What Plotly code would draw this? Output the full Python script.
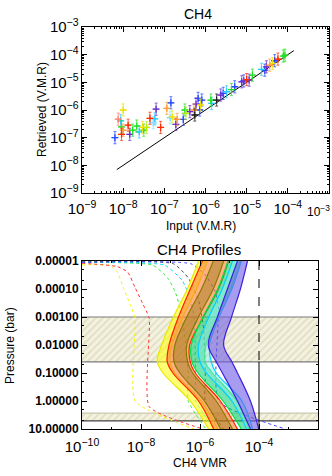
import numpy as np
import plotly.graph_objects as go

# ---------------- Top panel data (log10 values) ----------------
input_log = [-8.20, -8.12, -8.06, -8.04, -8.04, -8.00, -8.00, -7.88, -7.84, -7.77,
             -7.67, -7.61, -7.53, -7.50, -7.43, -7.35, -7.27, -7.23, -7.20, -7.09,
             -6.94, -6.84, -6.86, -6.81, -6.72, -6.69, -6.54, -6.50, -6.48, -6.38,
             -6.28, -6.26, -6.23, -6.18, -6.14, -6.09, -6.12, -5.87, -5.85, -5.73,
             -5.63, -5.57, -5.49, -5.37, -5.29, -5.12, -5.07, -5.00, -4.94, -4.86,
             -4.64, -4.56, -4.52, -4.44, -4.37, -4.32, -4.24, -4.11, -4.07]
retrieved_log = [-7.00, -6.33, -6.39, -6.61, -6.88, -6.00, -6.73, -6.55, -6.88, -6.73,
                 -6.58, -6.79, -6.63, -6.73, -6.63, -6.30, -6.46, -6.32, -5.97, -6.63,
                 -5.94, -5.74, -6.28, -6.25, -6.52, -6.34, -6.34, -6.00, -6.12, -6.06,
                 -6.00, -6.18, -5.79, -5.58, -6.00, -5.64, -5.82, -5.64, -5.76, -5.64,
                 -5.46, -5.40, -5.34, -5.26, -5.16, -4.98, -4.95, -4.90, -4.92, -4.74,
                 -4.53, -4.56, -4.44, -4.38, -4.32, -4.22, -4.16, -4.05, -4.02]
point_colors = ["B", "S", "C", "G", "R", "Y", "O", "R", "P", "G",
                "G", "C", "Y", "G", "YG", "R", "LC", "C", "P", "R",
                "O", "B", "LC", "Y", "P", "O", "B", "G", "YG", "P",
                "O", "K", "P", "B", "B", "B", "Y", "G", "C", "K",
                "P", "B", "C", "G", "B", "P", "B", "R", "P", "G",
                "C", "B", "P", "O", "Y", "B", "R", "G", "G"]
yerr_dex = 0.22
xerr_dex = 0.07
one_to_one = [7e-9, 1.4e-4]

# ---------------- Bottom panel data ----------------
levels_logp = [-5, -4, -3, -2, -1.4, -1, 0, 1]
bands = {
    "yellow": ([-6.05, -6.43, -6.90, -7.30, -7.45, -7.25, -6.33, -5.71],
               [-5.75, -6.12, -6.58, -6.95, -7.02, -6.85, -5.95, -5.40]),
    "orange": ([-5.92, -6.33, -6.73, -7.05, -7.11, -6.92, -6.05, -5.54],
               [-5.03, -5.37, -5.88, -6.35, -6.33, -6.16, -5.31, -4.73]),
    "olive":  ([-5.55, -5.95, -6.45, -6.85, -6.88, -6.68, -5.85, -5.30],
               [-5.20, -5.55, -6.05, -6.45, -6.42, -6.25, -5.45, -4.90]),
    "green":  ([-5.05, -5.40, -5.90, -6.30, -6.27, -6.07, -5.22, -4.60],
               [-4.63, -4.97, -5.41, -5.80, -5.82, -5.58, -4.75, -4.35]),
    "cyan":   ([-4.90, -5.25, -5.70, -6.05, -6.00, -5.78, -4.92, -4.42],
               [-4.60, -4.92, -5.35, -5.68, -5.62, -5.45, -4.58, -4.22]),
    "purple": ([-4.73, -5.07, -5.41, -5.72, -5.45, -5.24, -4.73, -4.29],
               [-4.39, -4.63, -4.93, -5.20, -4.92, -4.73, -4.29, -4.01]),
}
priors = {
    "yellow": ([-10, -9.05, -8.8, -8.6, -8.37, -8.2, -8.2, -6.2],
               [-4.86, -4.84, -4.6, -4.05, -3.45, -2.95, 0.0, 1.0]),
    "red":    ([-10, -8.8, -8.45, -8.2, -7.93, -7.72, -7.72, -5.9],
               [-4.92, -4.80, -4.6, -4.05, -3.45, -2.95, 0.2, 1.0]),
    "green":  ([-10, -7.6, -7.1, -6.84, -6.65, -6.5, -6.4, -6.4, -5.8],
               [-4.95, -4.85, -4.4, -3.9, -3.2, -2.2, -1.0, 0.0, 1.0]),
    "cyan":   ([-10, -7.2, -6.6, -6.35, -6.2, -6.15, -6.15, -5.5],
               [-4.96, -4.85, -4.3, -3.7, -3.0, -1.0, 0.0, 1.0]),
    "black":  ([-10, -6.9, -6.4, -6.05, -5.88, -5.82, -5.82, -5.2],
               [-4.97, -4.90, -4.4, -3.6, -2.6, -1.0, 0.0, 1.0]),
    "blue":   ([-10, -6.3, -5.82, -5.48, -5.37, -5.37, -3.1],
               [-4.95, -4.90, -4.5, -3.9, -3.3, 0.0, 1.0]),
}
true_vmr = 1e-4
hatch_bands = [(-3.0, -1.4), (0.43, 0.71)]
p_ticks = [1e-5, 1e-4, 1e-3, 1e-2, 1e-1, 1, 10]
p_ticktext = ["0.00001", "0.00010", "0.00100", "0.01000", "0.10000", "1.00000", "10.00000"]

# ---------------- Styles ----------------
pt_col = {"B": "#2448ff", "P": "#6a2ad0", "C": "#28c8ff", "LC": "#80e4ff", "G": "#20e020",
          "YG": "#b4f000", "Y": "#f0e000", "O": "#ff9a30", "R": "#ff2a00", "S": "#ff8070",
          "K": "#202020"}
band_style = {
    "yellow": ("#e8e800", "rgba(255,255,0,0.55)"),
    "orange": ("#ff2000", "rgba(255,125,50,0.6)"),
    "olive":  ("#8a7a00", "rgba(130,110,0,0.38)"),
    "green":  ("#00e040", "rgba(0,205,110,0.55)"),
    "cyan":   ("#00d0ff", "rgba(140,235,235,0.5)"),
    "purple": ("#4020e0", "rgba(110,90,230,0.6)"),
}
prior_col = {"yellow": "#f4f400", "red": "#ff3030", "green": "#30f030",
             "cyan": "#00d8ff", "black": "#404040", "blue": "#4040ff"}

FONT = "Liberation Sans, Arial, Helvetica, sans-serif"
fig = go.Figure()

# ---- top panel ----
fig.add_trace(go.Scatter(x=one_to_one, y=one_to_one, mode="lines",
                         line=dict(color="black", width=1), xaxis="x", yaxis="y",
                         showlegend=False, hoverinfo="skip"))
xin = np.array(input_log)
yret = np.array(retrieved_log)
cols = np.array(point_colors)
for key in pt_col:
    m = cols == key
    if not m.any():
        continue
    xv = 10 ** xin[m]
    yv = 10 ** yret[m]
    fig.add_trace(go.Scatter(
        x=xv, y=yv, mode="markers", xaxis="x", yaxis="y", showlegend=False,
        marker=dict(symbol="cross-thin", size=5, line=dict(width=1.3, color=pt_col[key]),
                    color=pt_col[key]),
        error_y=dict(type="data", symmetric=False, array=yv * (10 ** yerr_dex - 1),
                     arrayminus=yv * (1 - 10 ** -yerr_dex), color=pt_col[key],
                     thickness=0.7, width=1.5),
        error_x=dict(type="data", symmetric=False, array=xv * (10 ** xerr_dex - 1),
                     arrayminus=xv * (1 - 10 ** -xerr_dex), color=pt_col[key],
                     thickness=0.7, width=0),
    ))

# ---- bottom panel ----
for (a, b) in hatch_bands:
    fig.add_trace(go.Scatter(
        x=[1e-10, 1e-2, 1e-2, 1e-10, 1e-10], y=[10 ** a, 10 ** a, 10 ** b, 10 ** b, 10 ** a],
        mode="lines", fill="toself", line=dict(width=0), fillcolor="#f3f1df",
        fillpattern=dict(shape="/", bgcolor="#f3f1df", fgcolor="#cdc8a0", size=5, solidity=0.3),
        xaxis="x2", yaxis="y2", showlegend=False, hoverinfo="skip"))
for lp, c in [(-3.0, "#7a7a7a"), (-1.4, "#7a7a7a"), (0.43, "#c8c8b0"), (0.71, "#404040")]:
    fig.add_trace(go.Scatter(x=[1e-10, 1e-2], y=[10 ** lp, 10 ** lp], mode="lines",
                             line=dict(color=c, width=1.2), xaxis="x2", yaxis="y2",
                             showlegend=False, hoverinfo="skip"))

for name, (px_, pp_) in priors.items():
    fig.add_trace(go.Scatter(
        x=[10 ** v for v in px_], y=[10 ** v for v in pp_], mode="lines",
        line=dict(color=prior_col[name], width=1, dash="dot", shape="spline", smoothing=0.5),
        xaxis="x2", yaxis="y2", showlegend=False, hoverinfo="skip"))

pv = [10 ** v for v in levels_logp]
for name, (lo, hi) in bands.items():
    lc, fc = band_style[name]
    fig.add_trace(go.Scatter(x=[10 ** v for v in lo], y=pv, mode="lines",
                             line=dict(color=lc, width=1.2, shape="spline"),
                             xaxis="x2", yaxis="y2", showlegend=False, hoverinfo="skip"))
    fig.add_trace(go.Scatter(x=[10 ** v for v in hi], y=pv, mode="lines",
                             line=dict(color=lc, width=1.2, shape="spline"),
                             fill="tonextx", fillcolor=fc,
                             xaxis="x2", yaxis="y2", showlegend=False, hoverinfo="skip"))

fig.add_trace(go.Scatter(x=[true_vmr, true_vmr], y=[1e-5, 10 ** -1.4], mode="lines",
                         line=dict(color="black", width=1, dash="dash"),
                         xaxis="x2", yaxis="y2", showlegend=False, hoverinfo="skip"))
fig.add_trace(go.Scatter(x=[true_vmr, true_vmr], y=[10 ** -1.4, 10], mode="lines",
                         line=dict(color="black", width=1),
                         xaxis="x2", yaxis="y2", showlegend=False, hoverinfo="skip"))

W, H = 332, 476
ax_common = dict(type="log", showline=True, linecolor="black", linewidth=1, mirror="allticks",
                 ticks="inside", ticklen=5, tickcolor="black", showgrid=False, zeroline=False,
                 automargin=False,
                 tickfont=dict(family=FONT, size=12, color="black"),
                 minor=dict(ticks="inside", ticklen=2, tickcolor="black", showgrid=False))
fig.update_layout(
    width=W, height=H, autosize=False,
    margin=dict(l=0, r=0, t=0, b=0),
    paper_bgcolor="white", plot_bgcolor="white", showlegend=False,
    xaxis=dict(ax_common, domain=[82 / W, 329 / W], range=[-9, -3], dtick=1,
               exponentformat="power", ticklabeloverflow="hide past div",
               ticklabelstandoff=3, anchor="y"),
    yaxis=dict(ax_common, domain=[1 - 193 / H, 1 - 27 / H], range=[-9, -3], dtick=1,
               exponentformat="power", anchor="x"),
    xaxis2=dict(ax_common, domain=[82 / W, 318 / W], range=[-10, -2], dtick=2,
                exponentformat="power", ticklabelstandoff=5, anchor="y2"),
    yaxis2=dict(ax_common, domain=[1 - 429 / H, 1 - 261 / H], range=[1, -5],
                tickvals=p_ticks, ticktext=p_ticktext, anchor="x2",
                tickfont=dict(family=FONT, size=12, color="black", weight="bold")),
)
ann = [
    ("CH4", 198, 14, 14, 0),
    ("Input (V.M.R)", 201, 226, 12, 0),
    ("Retrieved (V.M.R)", 42, 110, 12, -90),
    ("CH4 Profiles", 199, 249, 15, 0),
    ("CH4 VMR", 200, 463, 12, 0),
    ("Pressure (bar)", 10, 346, 12, -90),
    ("10<sup>−3</sup>", 318, 211, 12, 0),
]
for t, x, y, s, ang in ann:
    fig.add_annotation(text=t, x=x / W, y=1 - y / H, xref="paper", yref="paper",
                       showarrow=False, textangle=ang, xanchor="center", yanchor="middle",
                       font=dict(family=FONT, size=s, color="black"))

fig.write_html("out.html", config={"displayModeBar": False},
               post_script="document.body.style.margin='0';document.body.style.overflow='hidden';")
